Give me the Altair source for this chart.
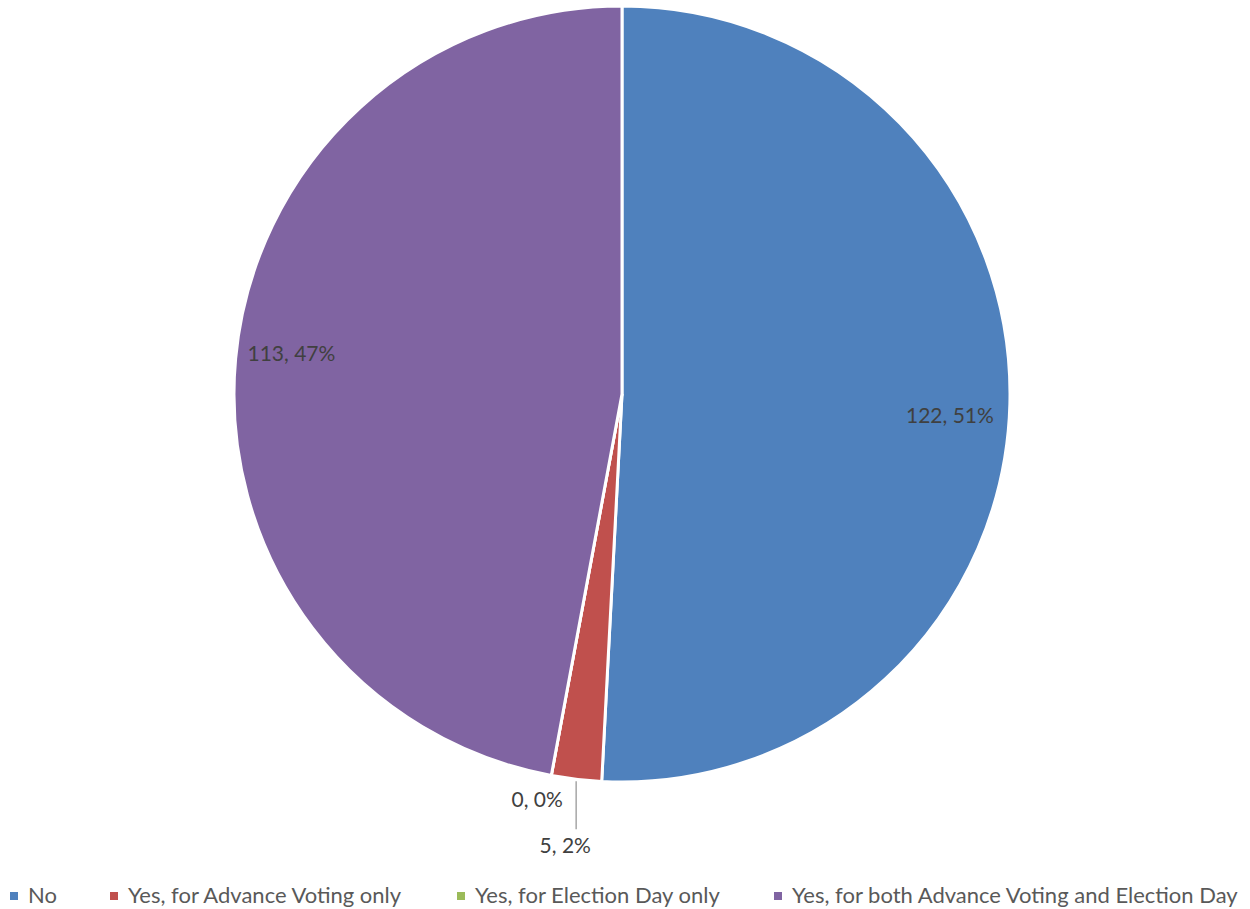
import altair as alt
import pandas as pd
import math

categories = ["No", "Yes, for Advance Voting only", "Yes, for Election Day only",
              "Yes, for both Advance Voting and Election Day"]
values = [122, 5, 0, 113]
colors = ["#4F81BD", "#C0504D", "#9BBB59", "#8064A2"]

total = sum(values)
labels = [f"{v}, {round(v / total * 100)}%" for v in values]
df = pd.DataFrame({"cat": categories, "value": values, "label": labels,
                   "idx": list(range(len(values)))})

CX, CY, R = 622, 394, 388
FONT = "Lato"

tscale = alt.Scale(domain=[0, total], range=[0, 2 * math.pi])
color = alt.Color("cat:N", scale=alt.Scale(domain=categories, range=colors),
                  sort=categories,
                  legend=alt.Legend(title=None, orient="none", direction="horizontal",
                                    columns=4, legendX=3, legendY=885,
                                    symbolType="square", symbolSize=64,
                                    symbolStrokeWidth=0, columnPadding=46,
                                    labelFont=FONT, labelFontSize=22,
                                    labelColor="#595959", labelOffset=3,
                                    labelLimit=600))

base = (alt.Chart(df)
        .transform_window(cum="sum(value)", sort=[{"field": "idx"}])
        .transform_calculate(start="datum.cum - datum.value",
                             mid="datum.cum - datum.value / 2",
                             ang=f"2 * PI * (datum.cum - datum.value / 2) / {total}"))

arcs = base.mark_arc(stroke="white", strokeWidth=3, outerRadius=R).encode(
    theta=alt.Theta("start:Q", scale=tscale),
    theta2="cum:Q",
    color=color,
    x=alt.value(CX), y=alt.value(CY),
)


def label_layer(cat, r, dx=0, dy=0):
    return (base.transform_filter(alt.datum.cat == cat)
            .transform_calculate(lx=f"{CX} + {r} * sin(datum.ang)",
                                 ly=f"{CY} - {r} * cos(datum.ang)")
            .mark_text(font=FONT, fontSize=21, color="#404040", align="center",
                       baseline="middle", dx=dx, dy=dy)
            .encode(x=alt.X("lx:Q", scale=None, axis=None),
                    y=alt.Y("ly:Q", scale=None, axis=None),
                    text="label:N"))


lab_no = label_layer(categories[0], 330, dx=-2, dy=14)
lab_both = label_layer(categories[3], 330, dx=-2, dy=-9)
lab_zero = label_layer(categories[2], 416, dx=-9, dy=-2)
lab_five = label_layer(categories[1], 457, dx=-3, dy=-1)

leader = (base.transform_filter(alt.datum.cat == categories[1])
          .transform_calculate(
              lx=f"{CX} + {R + 2} * sin(datum.ang)",
              ly=f"{CY} - {R + 2} * cos(datum.ang)",
              ly2=f"{CY} - {R + 2} * cos(datum.ang) + 48")
          .mark_rule(color="#A6A6A6", strokeWidth=1.5)
          .encode(x=alt.X("lx:Q", scale=None, axis=None),
                  y=alt.Y("ly:Q", scale=None, axis=None),
                  y2="ly2:Q"))

chart = alt.layer(arcs, leader, lab_no, lab_both, lab_zero, lab_five).properties(
    width=1250, height=909,
    autosize=alt.AutoSizeParams(type="none"),
    padding=0,
    background="white",
).configure_view(stroke=None, strokeWidth=0)

chart.save("out.html", embed_options={"renderer": "svg", "actions": False})
